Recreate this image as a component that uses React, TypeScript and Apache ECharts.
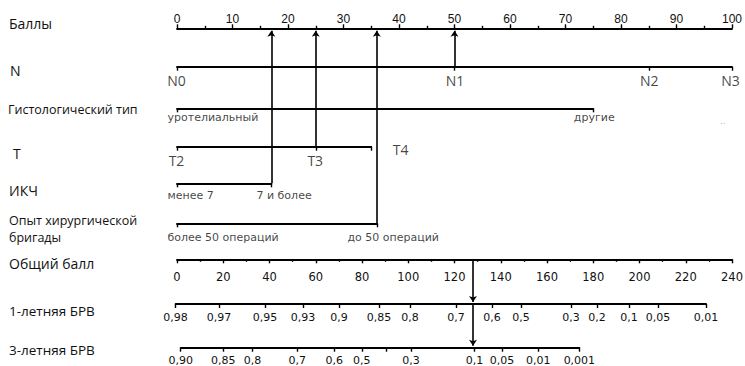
import React, { useEffect, useRef } from "react";
import * as echarts from "echarts";

// ---------------- data ----------------
const pointsMax = 100;
const pointsStep = 10;
const totalMax = 240;
const totalStep = 20;

const nLevels = ["N0", "N1", "N2", "N3"];
const nPoints = [0, 50, 85, 100];
const histLevels = ["уротелиальный", "другие"];
const histPoints = [0, 75];
const tLevels = ["T2", "T3", "T4"];
const tPoints = [0, 25, 35];
const ikchLevels = ["менее 7", "7 и более"];
const ikchPoints = [0, 17];
const expLevels = ["более 50 операций", "до 50 операций"];
const expPoints = [0, 36];

// survival scales, expressed in total points
const surv1Labels = ["0,98", "0,97", "0,95", "0,93", "0,9", "0,85", "0,8", "0,7", "0,6", "0,5", "0,3", "0,2", "0,1", "0,05", "0,01"];
const surv1Points = [-0.6, 18.2, 38.1, 54.5, 70.1, 87.4, 100.8, 120.6, 136.2, 148.8, 170.4, 181.6, 195.5, 208, 228.8];
const surv3Labels = ["0,90", "0,85", "0,8", "0,7", "0,6", "0,5", "", "0,3", "0,1", "0,05", "0,01", "0,001"];
const surv3Points = [1.6, 20, 32.6, 52, 68, 79.9, 90.7, 101.2, 128.6, 140.5, 156.2, 174];

// example patient (selected level index per predictor)
const selN = 1;
const selHist = 0;
const selT = 1;
const selIkch = 1;
const selExp = 1;

// ---------------- layout ----------------
const W = 745;
const H = 366;
const AX_L = 177;
const AX_R = 732;
const K_PTS = (AX_R - AX_L) / pointsMax;
const K_TOT = (AX_R - AX_L) / totalMax;
const Y = { pts: 28.3, n: 66.7, hist: 108.3, t: 146.7, ikch: 183.3, exp: 223.3, tot: 259.3, s1: 304, s3: 347.7 };

const INK = "#000";
const TXT = "#111";
const LINE = { color: INK, width: 1.8 };
const TICK = { color: INK, width: 1.4 };
const OPEN = "'Open Sans', sans-serif";
const DEJA = "'DejaVu Sans', sans-serif";

type LabelCfg = { align: string; dx: number; cy: number };

function buildOption() {
  const grids: any[] = [];
  const xAxes: any[] = [];
  const yAxes: any[] = [];
  const series: any[] = [];

  const addGrid = (left: number, width: number, top: number, height = 10) => {
    grids.push({ left, width, top, height, containLabel: false, outerBoundsMode: "none", show: false });
    const gi = grids.length - 1;
    yAxes.push({ gridIndex: gi, type: "value", min: 0, max: 1, show: false });
    return gi;
  };

  // Points axis
  {
    const gi = addGrid(AX_L, AX_R - AX_L, Y.pts);
    xAxes.push({
      gridIndex: gi, type: "value", position: "top", min: 0, max: pointsMax, interval: pointsStep,
      axisLine: { show: true, onZero: false, lineStyle: LINE },
      axisTick: { show: true, length: 4, lineStyle: TICK },
      minorTick: { show: true, splitNumber: 2, length: 2.5, lineStyle: TICK },
      axisLabel: { show: true, margin: 3, fontFamily: "'Liberation Sans', Arial, sans-serif", fontSize: 12, color: TXT },
      splitLine: { show: false }, minorSplitLine: { show: false },
    });
  }

  const catRow = (levels: string[], points: number[], lineY: number, font: { family: string; size: number }, cfgs: LabelCfg[]) => {
    const max = points[points.length - 1];
    const gi = addGrid(AX_L, max * K_PTS, lineY - 10);
    xAxes.push({
      gridIndex: gi, type: "value", min: 0, max,
      axisLine: { show: true, onZero: false, lineStyle: LINE },
      axisTick: { show: true, length: 4, lineStyle: TICK, customValues: points },
      axisLabel: { show: false },
      splitLine: { show: false },
    });
    series.push({
      type: "scatter", xAxisIndex: gi, yAxisIndex: gi, symbolSize: 1, silent: true, clip: false,
      itemStyle: { color: "rgba(0,0,0,0)" },
      data: levels.map((name, i) => ({
        name,
        value: [points[i], 0],
        label: {
          show: true, formatter: name, position: [cfgs[i].dx, cfgs[i].cy - lineY],
          align: cfgs[i].align, verticalAlign: "middle",
          fontFamily: font.family, fontSize: font.size, color: TXT,
        },
      })),
    });
  };

  catRow(nLevels, nPoints, Y.n, { family: OPEN, size: 14 }, [
    { align: "center", dx: 0, cy: 81 }, { align: "center", dx: 1, cy: 81 },
    { align: "center", dx: 1, cy: 81 }, { align: "center", dx: -1, cy: 81 },
  ]);
  catRow(histLevels, histPoints, Y.hist, { family: DEJA, size: 11 }, [
    { align: "left", dx: -9, cy: 118 }, { align: "center", dx: 1.5, cy: 118 },
  ]);
  catRow(tLevels, tPoints, Y.t, { family: OPEN, size: 14 }, [
    { align: "center", dx: 0, cy: 161 }, { align: "center", dx: 0, cy: 161 }, { align: "left", dx: 22, cy: 150 },
  ]);
  catRow(ikchLevels, ikchPoints, Y.ikch, { family: DEJA, size: 11 }, [
    { align: "left", dx: -9, cy: 195.5 }, { align: "left", dx: -14.4, cy: 195.5 },
  ]);
  catRow(expLevels, expPoints, Y.exp, { family: DEJA, size: 11 }, [
    { align: "left", dx: -9, cy: 238 }, { align: "left", dx: -28.8, cy: 238 },
  ]);

  // Total points axis
  {
    const gi = addGrid(AX_L, AX_R - AX_L, Y.tot - 10);
    xAxes.push({
      gridIndex: gi, type: "value", min: 0, max: totalMax, interval: totalStep,
      axisLine: { show: true, onZero: false, lineStyle: LINE },
      axisTick: { show: true, length: 4, lineStyle: TICK },
      minorTick: { show: true, splitNumber: 2, length: 2.5, lineStyle: TICK },
      axisLabel: { show: true, margin: 11.5, fontFamily: DEJA, fontSize: 11.5, color: TXT },
      splitLine: { show: false }, minorSplitLine: { show: false },
    });
  }

  const survRow = (labels: string[], points: number[], lineY: number, margin: number) => {
    const min = Math.min(...points);
    const max = Math.max(...points);
    const gi = addGrid(AX_L + min * K_TOT, (max - min) * K_TOT, lineY - 10);
    const fmt = (v: number) => {
      let best = 0;
      points.forEach((p, i) => { if (Math.abs(p - v) < Math.abs(points[best] - v)) best = i; });
      return labels[best];
    };
    xAxes.push({
      gridIndex: gi, type: "value", min, max,
      axisLine: { show: true, onZero: false, lineStyle: LINE },
      axisTick: { show: true, length: 4, lineStyle: TICK, customValues: points },
      axisLabel: { show: true, customValues: points, formatter: fmt, margin, fontFamily: DEJA, fontSize: 11, color: TXT },
      splitLine: { show: false },
    });
  };
  survRow(surv1Labels, surv1Points, Y.s1, 7.5);
  survRow(surv3Labels, surv3Points, Y.s3, 7);

  // Overlay for arrows
  grids.push({ left: AX_L, width: AX_R - AX_L, top: 0, height: H, containLabel: false, outerBoundsMode: "none", show: false });
  const og = grids.length - 1;
  xAxes.push({ gridIndex: og, type: "value", min: 0, max: pointsMax, show: false });
  const xPtsIdx = xAxes.length - 1;
  xAxes.push({ gridIndex: og, type: "value", min: 0, max: totalMax, show: false });
  const xTotIdx = xAxes.length - 1;
  yAxes.push({ gridIndex: og, type: "value", min: 0, max: H, inverse: true, show: false });
  const yOvIdx = yAxes.length - 1;

  const picks = [
    { v: nPoints[selN], y: Y.n },
    { v: histPoints[selHist], y: Y.hist },
    { v: tPoints[selT], y: Y.t },
    { v: ikchPoints[selIkch], y: Y.ikch },
    { v: expPoints[selExp], y: Y.exp },
  ];
  const total = picks.reduce((s, p) => s + p.v, 0);

  series.push({
    type: "lines", coordinateSystem: "cartesian2d", xAxisIndex: xPtsIdx, yAxisIndex: yOvIdx,
    symbol: ["none", "arrow"], symbolSize: 6, silent: true,
    lineStyle: { color: INK, width: 1.6, opacity: 1, curveness: 0 },
    data: picks.filter((p) => p.v > 0).map((p) => ({ coords: [[p.v, p.y], [p.v, Y.pts + 2.5]] })),
  });
  series.push({
    type: "lines", coordinateSystem: "cartesian2d", xAxisIndex: xTotIdx, yAxisIndex: yOvIdx,
    symbol: ["none", "arrow"], symbolSize: 6, silent: true,
    lineStyle: { color: INK, width: 1.6, opacity: 1, curveness: 0 },
    data: [
      { coords: [[total, Y.tot], [total, Y.s1 - 2]] },
      { coords: [[total, Y.s1], [total, Y.s3 - 2]] },
    ],
  });

  const title = (text: string, x: number, y: number, size: number) => ({
    type: "text", x, y, silent: true,
    style: { text, fill: TXT, font: `${size}px 'Open Sans', sans-serif`, align: "left", verticalAlign: "middle" },
  });

  return {
    animation: false,
    backgroundColor: "#fff",
    grid: grids,
    xAxis: xAxes,
    yAxis: yAxes,
    series,
    graphic: {
      elements: [
        title("Баллы", 9, 23, 14),
        title("N", 10, 70, 14),
        title("Гистологический тип", 8, 109.5, 12.5),
        title("T", 13, 153, 14),
        title("ИКЧ", 9, 190.5, 14),
        title("Опыт хирургической", 9, 220, 12.5),
        title("бригады", 9, 237, 12.5),
        title("Общий балл", 9, 263, 14),
        title("1-летняя БРВ", 9, 311, 13.5),
        title("3-летняя БРВ", 9, 350, 13.5),
        { type: "text", x: 720, y: 121, silent: true, style: { text: "..", fill: "#bbb", font: "9px 'DejaVu Sans'", align: "left", verticalAlign: "middle" } },
      ],
    },
  };
}

export default function App() {
  const ref = useRef<HTMLDivElement>(null);
  useEffect(() => {
    if (!ref.current) return;
    const chart = echarts.init(ref.current, null, { renderer: "svg" });
    chart.setOption(buildOption() as any);
    return () => chart.dispose();
  }, []);
  return <div ref={ref} style={{ position: "fixed", left: 0, top: 0, width: W, height: H, background: "#fff" }} />;
}
